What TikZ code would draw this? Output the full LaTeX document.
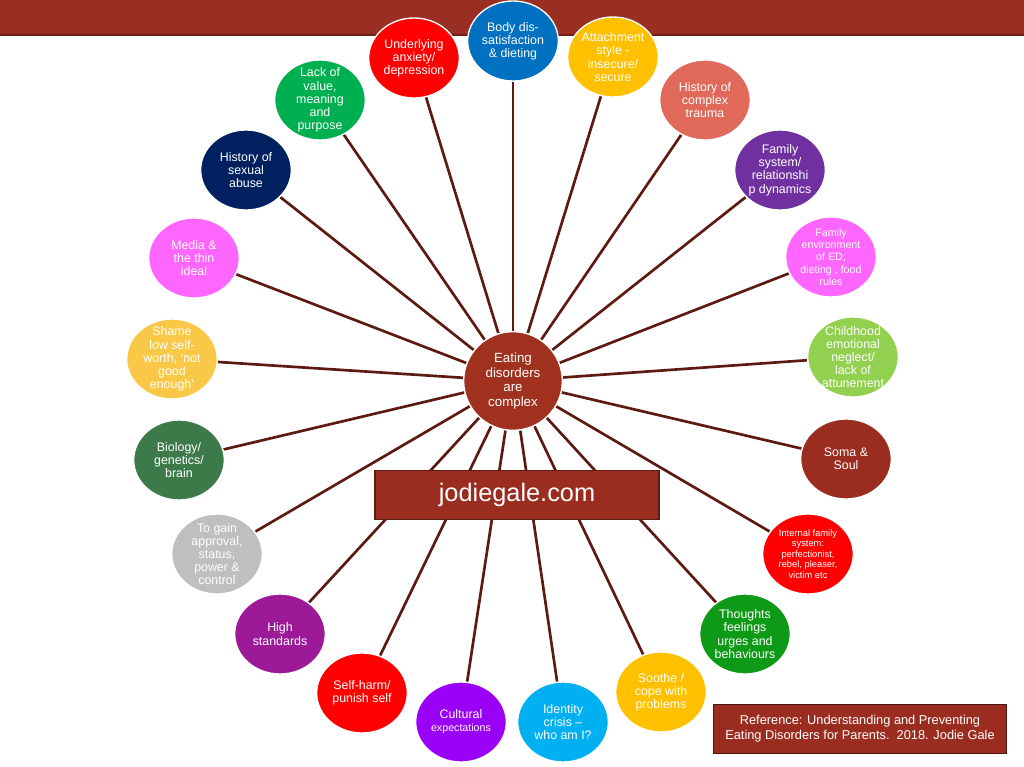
\documentclass[tikz,border=0pt]{standalone}
\usepackage{fontspec}
\setmainfont{Liberation Sans}
\usetikzlibrary{shapes.geometric}

\pgfdeclarelayer{background}
\pgfsetlayers{background,main}

\definecolor{brick}{HTML}{992E22}
\definecolor{hubred}{HTML}{A0311F}
\definecolor{spokecol}{HTML}{5C1A12}
\definecolor{cBlue}{HTML}{0070C0}
\definecolor{cRed}{HTML}{FF0000}
\definecolor{cGreen}{HTML}{00B050}
\definecolor{cNavy}{HTML}{002060}
\definecolor{cPink}{HTML}{FF66FF}
\definecolor{cShame}{HTML}{F9C846}
\definecolor{cBio}{HTML}{3D7A4A}
\definecolor{cGray}{HTML}{BFBFBF}
\definecolor{cHigh}{HTML}{9C1A98}
\definecolor{cViolet}{HTML}{9A00F5}
\definecolor{cCyan}{HTML}{00B0F0}
\definecolor{cGold}{HTML}{FFC000}
\definecolor{cThought}{HTML}{0E9A16}
\definecolor{cBrown}{HTML}{9B2D20}
\definecolor{cLime}{HTML}{92D050}
\definecolor{cPurple}{HTML}{7030A0}
\definecolor{cSalmon}{HTML}{E0695A}

\newcommand{\fN}{\fontsize{9.3}{9.9}\selectfont}
\newcommand{\fS}{\fontsize{8}{9.2}\selectfont}
\newcommand{\fT}{\fontsize{7}{7.8}\selectfont}

\tikzset{
  bubble/.style={ellipse,draw=white,line width=1pt,text=white,align=center,
    minimum width=68pt,minimum height=60pt,inner sep=-6pt},
  spoke/.style={draw=spokecol,line width=2pt}
}

\begin{document}
\begin{tikzpicture}[x=0.75pt,y=-0.75pt]
      \useasboundingbox (0,0) rectangle (1024,767);
      \fill[brick] (0,0) rectangle (1024,35);
      \draw[brick!70!black,line width=1pt] (0,35) -- (1024,35);
      % hub
      \node[circle,fill=hubred,draw=white,line width=1pt,text=white,align=center,
        minimum size=74pt,inner sep=0pt,font=\fontsize{10}{11}\selectfont]
        (hub) at (513,381) {Eating\\disorders\\are\\complex};
      % bubbles round the hub
      \foreach \nm/\pos/\col/\fs/\txt in {
        body/{513,41}/cBlue/\fN/{Body dis-\\satisfaction\\\& dieting},
        anxiety/{414,58}/cRed/\fN/{Underlying\\anxiety/\\depression},
        value/{320,100}/cGreen/\fN/{Lack of\\value,\\meaning\\and\\purpose},
        abuse/{246,170}/cNavy/\fN/{History of\\sexual\\abuse},
        media/{194,258}/cPink/\fN/{Media \&\\the thin\\ideal},
        shame/{172,359}/cShame/\fN/{Shame\\low self-\\worth, `not\\good\\enough'},
        biology/{179,460}/cBio/\fN/{Biology/\\genetics/\\brain},
        approval/{217,554}/cGray/\fN/{To gain\\approval,\\status,\\power \&\\control},
        standards/{280,634}/cHigh/\fN/{High\\standards},
        selfharm/{362,693}/cRed/\fN/{Self-harm/\\punish self},
        cultural/{461,722}/cViolet/\fN/{Cultural\\{\fS expectations}},
        identity/{563,722}/cCyan/\fN/{Identity\\crisis --\\who am I?},
        soothe/{661,692}/cGold/\fN/{Soothe /\\cope with\\problems},
        thoughts/{745,634}/cThought/\fN/{Thoughts\\feelings\\urges and\\behaviours},
        internal/{808,554}/cRed/\fT/{Internal family\\system:\\perfectionist,\\rebel, pleaser,\\victim etc},
        soma/{846,459}/cBrown/\fN/{Soma \&\\Soul},
        neglect/{853,357}/cLime/\fN/{Childhood\\emotional\\neglect/\\lack of\\attunement},
        environment/{831,257}/cPink/\fS/{Family\\environment\\of ED;\\dieting , food\\rules},
        system/{780,170}/cPurple/\fN/{Family\\system/\\relationshi\\p dynamics},
        trauma/{705,100}/cSalmon/\fN/{History of\\complex\\trauma},
        attachment/{613,57}/cGold/\fN/{Attachment\\style -\\insecure/\\secure}}
      \node[bubble,fill=\col,font=\fs] (\nm) at (\pos) {\txt};
      % spokes behind everything
      \begin{pgfonlayer}{background}
      \fill[white] (0,0) rectangle (1024,767);
      \foreach \nm in {body,anxiety,value,abuse,media,shame,biology,approval,standards,
        selfharm,cultural,identity,soothe,thoughts,internal,soma,neglect,environment,
        system,trauma,attachment}
      \draw[spoke] (hub) -- (\nm);
      \end{pgfonlayer}
      \node[rectangle,fill=cBrown,draw=brick!60!black,line width=1pt,text=white,
        minimum width=213pt,minimum height=37pt,font=\fontsize{19}{20}\selectfont]
        (site) at (517,495) {jodiegale.com};
      \node[rectangle,fill=cBrown,draw=brick!50!black,line width=1pt,text=white,align=center,
        minimum width=220pt,minimum height=37pt,font=\fontsize{9.6}{11}\selectfont]
        (ref) at (860,729) {Reference: Understanding and Preventing\\Eating Disorders for Parents.\ \ 2018. Jodie Gale};
    \end{tikzpicture}
\end{document}
